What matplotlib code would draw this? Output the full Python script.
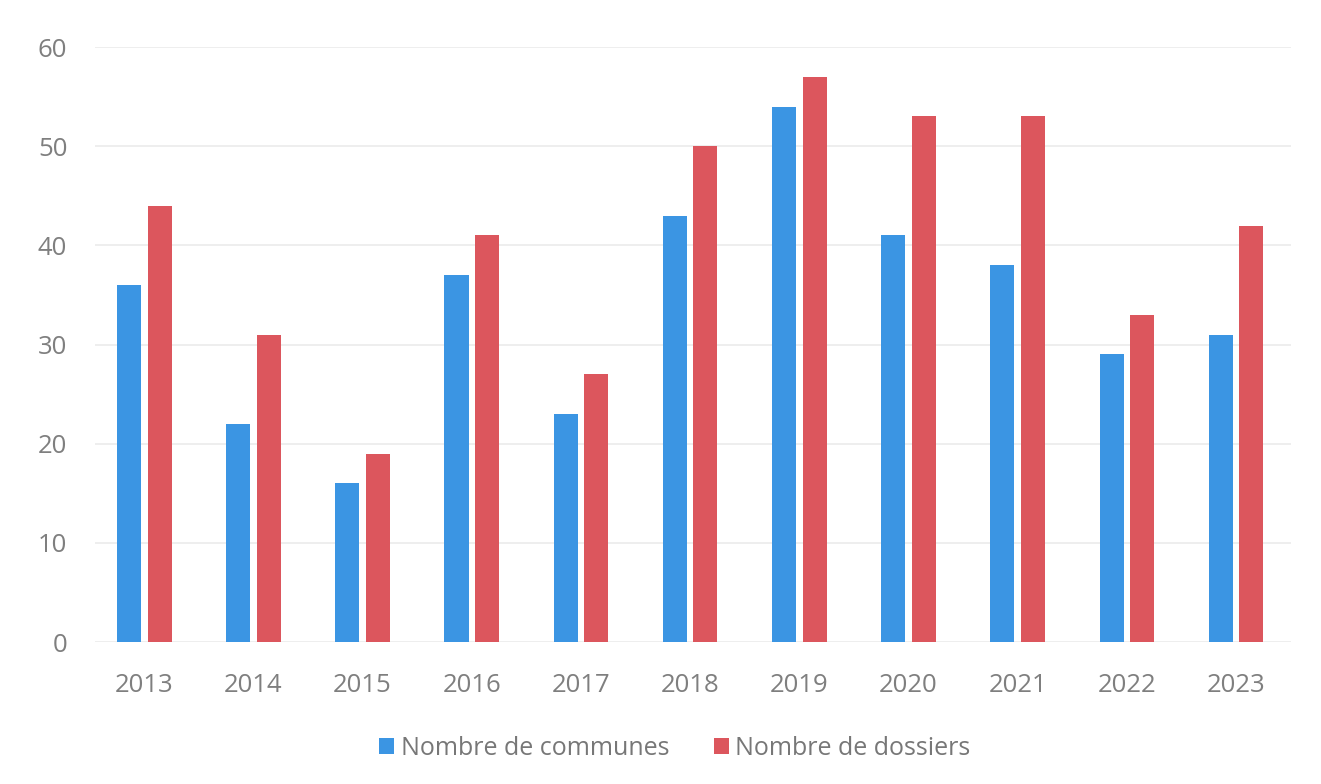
import matplotlib.pyplot as plt
import numpy as np

years = ["2013", "2014", "2015", "2016", "2017", "2018", "2019", "2020", "2021", "2022", "2023"]
communes = [36, 22, 16, 37, 23, 43, 54, 41, 38, 29, 31]
dossiers = [44, 31, 19, 41, 27, 50, 57, 53, 53, 33, 42]

plt.rcParams['font.family'] = ['Open Sans', 'DejaVu Sans']

fig = plt.figure(figsize=(13.21, 7.84), dpi=100)
ax = fig.add_axes([0.072, 0.181, 0.905, 0.759])

x = np.arange(len(years))
w = 0.22
ax.bar(x - 0.14, communes, w, color="#3b95e3", label="Nombre de communes", zorder=3)
ax.bar(x + 0.14, dossiers, w, color="#dc565d", label="Nombre de dossiers", zorder=3)

ax.set_ylim(0, 60)
ax.set_xlim(-0.45, 10.5)
ax.set_yticks(range(0, 61, 10))
ax.set_xticks(x)
ax.set_xticklabels(years)
ax.grid(axis="y", color="#ebebeb", linewidth=1.2, zorder=0)
for s in ax.spines.values():
    s.set_visible(False)
ax.tick_params(length=0, labelsize=18.5, labelcolor="#7f7f7f")
ax.tick_params(axis="x", pad=22)
ax.tick_params(axis="y", pad=20)

ax.legend(loc="upper center", bbox_to_anchor=(0.485, -0.12), ncol=2, frameon=False,
          fontsize=18, labelcolor="#777777", handlelength=0.6, handleheight=0.6,
          handletextpad=0.25, columnspacing=1.8)

fig.savefig("out.png", dpi=100)
